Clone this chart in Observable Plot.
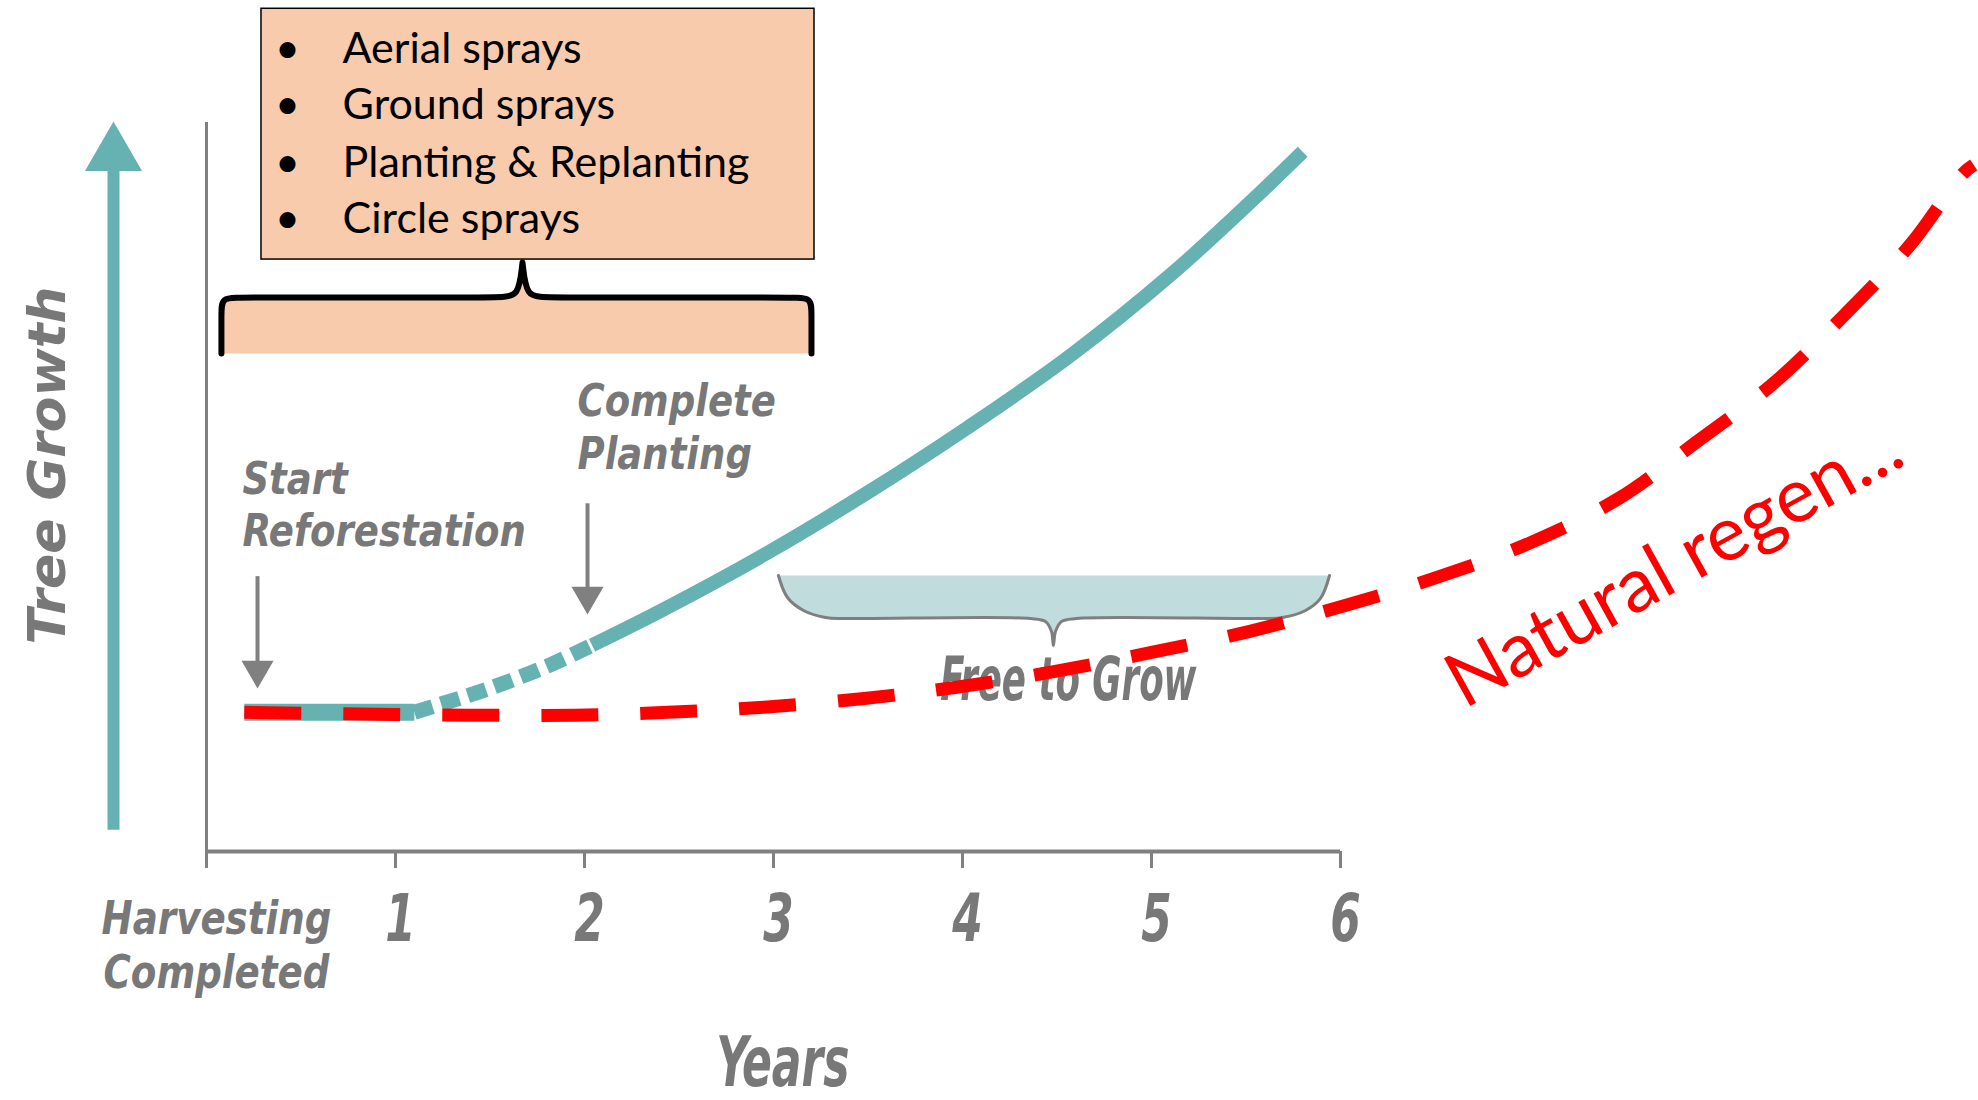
<!DOCTYPE html>
<html>
<head>
<meta charset="utf-8">
<script src="https://cdn.jsdelivr.net/npm/d3@7"></script>
<script src="https://cdn.jsdelivr.net/npm/@observablehq/plot@0.6"></script>
<style>
  html, body { margin: 0; padding: 0; background: #fff; overflow: hidden; }
</style>
</head>
<body>
<div id="chart"></div>
<script>
// ---------- data ----------
const years = [0, 1, 2, 3, 4, 5, 6];
const yearLabels = ["Harvesting\nCompleted", "1", "2", "3", "4", "5", "6"];

// reforestation growth (teal): flat, establishing (dotted), growing (solid)
const establishX = [0.2, 1.1];
const establishY = [19.1, 19.1];
const plantingX = [1.1, 1.2, 1.5, 1.8, 2.04];
const plantingY = [19.1, 19.9, 22.4, 25.4, 28.3];
const plantedX = [2.04, 2.41, 2.95, 3.49, 4.03, 4.57, 5.11, 5.52, 5.8];
const plantedY = [28.3, 33.1, 40.7, 49.1, 58.2, 68.0, 79.3, 89.0, 96.0];

// natural regeneration (red dashed)
const naturalX = [0.2, 1.0, 1.95, 2.44, 2.95, 3.48, 3.96, 4.49, 5.0, 5.52, 6.02, 6.51, 7.0, 7.47, 7.88, 8.29, 8.67, 9.02, 9.29, 9.35];
const naturalY = [19.1, 18.8, 18.7, 19.1, 19.8, 21.0, 22.5, 24.7, 27.3, 30.2, 33.7, 37.6, 42.3, 48.4, 56.1, 64.2, 73.7, 83.4, 92.9, 94.2];

// treatments box
const treatments = ["Aerial sprays", "Ground sprays", "Planting & Replanting", "Circle sprays"];
const treatmentY = [108.2, 100.5, 92.5, 84.8];
const treatmentBox = [{x1: 0.291, x2: 3.217, y1: 81.2, y2: 115.6}];
const treatmentBraceX = [0.079, 0.079, 0.079, 0.18, 1.556, 1.651, 1.672, 1.672, 1.672, 1.693, 1.788, 3.101, 3.201, 3.201, 3.201];
const treatmentBraceY = [68.31, 73.94, 75.99, 75.99, 75.99, 75.99, 80.8, 80.8, 80.8, 75.99, 75.99, 75.99, 75.99, 73.94, 68.31];

// milestones
const milestoneLabels = ["Start\nReforestation", "Complete\nPlanting"];
const milestoneLabelX = [0.19, 1.963];
const milestoneLabelY = [41.85, 52.5];
const milestoneArrowX = [0.27, 2.016];
const milestoneArrowTop = [37.7, 47.7];
const milestoneArrowHead = [24.9, 35.05];

// free to grow brace
const freeBraceX = [3.026, 3.074, 3.159, 3.275, 3.381, 4.36, 4.439, 4.471, 4.481, 4.492, 4.524, 4.603, 5.587, 5.693, 5.815, 5.894, 5.942];
const freeBraceY = [37.86, 34.84, 33.06, 32.1, 31.96, 31.96, 31.55, 30.18, 28.26, 30.18, 31.55, 31.96, 31.96, 32.1, 33.06, 34.71, 37.86];
const freeLabel = [{x: 4.56, y: 20.8, text: "Free to Grow"}];

// growth axis arrow and labels
const growthArrow = [{x: -0.492, y1: 2.9, y2: 93.5, head: 95.6}];
const growthLabel = [{x: -0.836, y: 52.95, text: "Tree Growth"}];
const yearsLabel = [{x: 3.05, y: -32.1, text: "Years"}];
const regenLabel = [{x: 7.829, y: 36.4, text: "Natural regen..."}];

// ---------- tables ----------
const zip = (xs, ys) => xs.map((x, i) => ({x, y: ys[i]}));
const establish = zip(establishX, establishY);
const planting = zip(plantingX, plantingY);
const planted = zip(plantedX, plantedY);
const natural = zip(naturalX, naturalY);
const treatmentRows = treatments.map((t, i) => ({text: t, y: treatmentY[i]}));
const treatmentBrace = zip(treatmentBraceX, treatmentBraceY);
const milestoneRows = milestoneLabels.map((t, i) => ({text: t, x: milestoneLabelX[i], y: milestoneLabelY[i]}));
const milestoneArrows = milestoneArrowX.map((x, i) => ({x, y1: milestoneArrowTop[i], y2: milestoneArrowHead[i]}));
const freeBrace = zip(freeBraceX, freeBraceY);

// ---------- styles ----------
const teal = "#66b2b2";
const gray = "#787878";
const lineGray = "#808080";
const narrow = "'DejaVu Sans Condensed', 'DejaVu Sans', sans-serif";
const handText = {fontFamily: narrow, fontStyle: "italic", fontWeight: "bold", fill: gray};

// render transform: condense the hand-lettered labels horizontally (optionally nudging italic labels)
function squeeze(k, shift = 0) {
  return (index, scales, values, dimensions, context, next) => {
    const g = next(index, scales, values, dimensions, context);
    if (g) d3.select(g).selectAll("text").attr("transform", function () {
      const t = this.getAttribute("transform") || "";
      return `${t}${shift ? ` translate(${shift},0)` : ""} scale(${k},1)`;
    });
    return g;
  };
}

const chart = Plot.plot({
  width: 1978,
  height: 1100,
  marginTop: 0,
  marginRight: 0,
  marginLeft: 0,
  marginBottom: 249,
  x: {domain: [-1.0899, 9.3757], label: null},
  y: {domain: [0, 116.735], axis: null, label: null},
  style: {background: "white", display: "block", overflow: "visible"},
  marks: [
    // treatments box
    Plot.rect(treatmentBox, {x1: "x1", x2: "x2", y1: "y1", y2: "y2", fill: "#f8cbad", stroke: "#000", strokeWidth: 1.5}),
    Plot.text(treatmentRows, {x: 0.429, y: "y", text: () => "\u2022", lineAnchor: "bottom", textAnchor: "middle", fontFamily: "Lato", fontSize: 43, fill: "#000"}),
    Plot.text(treatmentRows, {x: 0.72, y: "y", text: "text", lineAnchor: "bottom", textAnchor: "start", fontFamily: "Lato", fontSize: 43, fill: "#000"}),
    Plot.line(treatmentBrace, {x: "x", y: "y", curve: "basis", fill: "#f8cbad", stroke: "#000", strokeWidth: 6}),

    // axes
    Plot.ruleY([0], {x1: 0, x2: 6, stroke: lineGray, strokeWidth: 4}),
    Plot.ruleX([0], {y1: 0, y2: 100, stroke: lineGray, strokeWidth: 3}),
    Plot.axisX(years.slice(1), {tickFormat: (d) => yearLabels[d], tickSize: 17, tickPadding: 26, fontSize: 65,
      fontFamily: narrow, fontStyle: "italic", fontWeight: "bold", fill: gray, stroke: lineGray, strokeWidth: 3,
      label: null, render: squeeze(0.75, 5)}),
    Plot.axisX(years.slice(0, 1), {tickFormat: (d) => yearLabels[d], tickSize: 17, tickPadding: 27, fontSize: 47, lineHeight: 1.15,
      fontFamily: narrow, fontStyle: "italic", fontWeight: "bold", fill: gray, stroke: lineGray, strokeWidth: 3,
      label: null, render: squeeze(0.88, 10)}),
    Plot.text(yearsLabel, {x: "x", y: "y", text: "text", lineAnchor: "bottom", fontSize: 70, ...handText, render: squeeze(0.7)}),

    // growth arrow
    Plot.ruleX(growthArrow, {x: "x", y1: "y1", y2: "y2", stroke: teal, strokeWidth: 12}),
    Plot.dot(growthArrow, {x: "x", y: "head", symbol: "triangle", r: 21.2, fill: teal, stroke: null}),
    Plot.text(growthLabel, {x: "x", y: "y", text: "text", rotate: -90, fontSize: 52, fontFamily: "DejaVu Sans", fontStyle: "italic", fontWeight: "bold", fill: gray}),

    // milestones
    Plot.ruleX(milestoneArrows, {x: "x", y1: "y1", y2: "y2", stroke: lineGray, strokeWidth: 4}),
    Plot.dot(milestoneArrows, {x: "x", y: "y2", symbol: "triangle", r: 11.9, rotate: 180, fill: lineGray, stroke: null}),
    Plot.text(milestoneRows, {x: "x", y: "y", text: "text", lineAnchor: "bottom", textAnchor: "start", fontSize: 45, lineHeight: 1.17, ...handText, render: squeeze(0.915)}),

    // free to grow
    Plot.line(freeBrace, {x: "x", y: "y", curve: "catmull-rom", fill: "#c0dcdd", stroke: "#7f7f7f", strokeWidth: 3}),
    Plot.text(freeLabel, {x: "x", y: "y", text: "text", lineAnchor: "bottom", fontSize: 60, ...handText, render: squeeze(0.66)}),

    // reforestation curve
    Plot.line(establish, {x: "x", y: "y", stroke: teal, strokeWidth: 17, strokeLinecap: "butt"}),
    Plot.line(planting, {x: "x", y: "y", curve: "catmull-rom", stroke: teal, strokeWidth: 15, strokeLinecap: "butt", strokeDasharray: "19,9"}),
    Plot.line(planted, {x: "x", y: "y", curve: "catmull-rom", stroke: teal, strokeWidth: 14, strokeLinecap: "butt"}),

    // natural regeneration
    Plot.line(natural, {x: "x", y: "y", curve: "catmull-rom", stroke: "#ff0000", strokeWidth: 13, strokeLinecap: "butt", strokeDasharray: "57,42"}),
    Plot.text(regenLabel, {x: "x", y: "y", text: "text", rotate: -29, lineAnchor: "bottom", fontSize: 76, fontFamily: "Lato", fill: "#ff0000"})
  ]
});

document.getElementById("chart").appendChild(chart);
</script>
</body>
</html>
